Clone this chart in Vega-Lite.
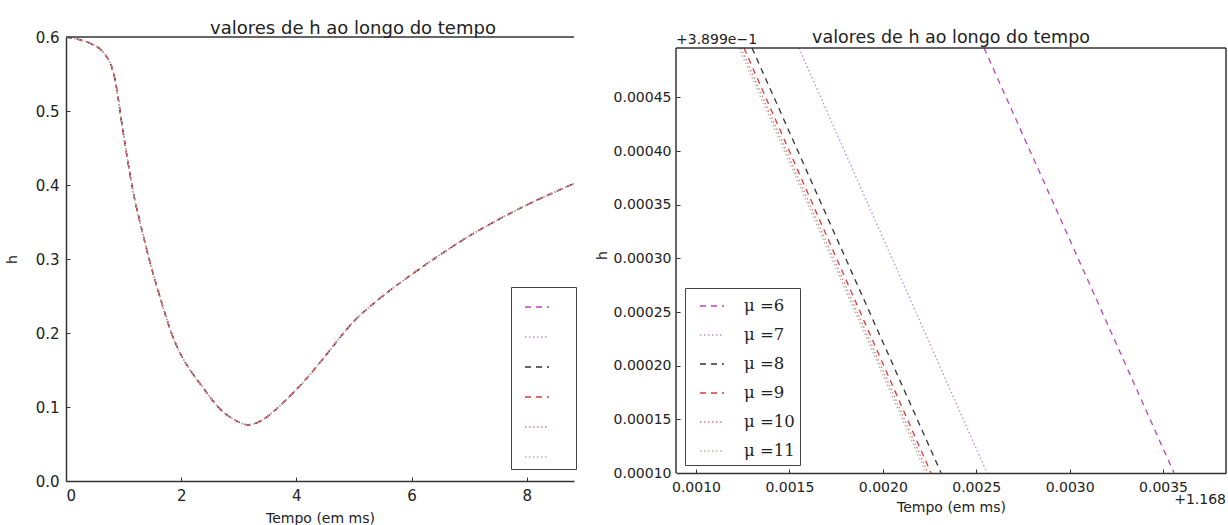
{
  "$schema": "https://vega.github.io/schema/vega-lite/v6.json",
  "background": "white",
  "padding": {"left": 5, "top": 20, "right": 0, "bottom": 0},
  "spacing": 18,
  "config": {
    "font": "DejaVu Sans",
    "view": {"stroke": null},
    "axis": {
      "grid": false,
      "domainColor": "#333333",
      "domainWidth": 1.5,
      "tickColor": "#333333",
      "tickSize": -4,
      "labelPadding": 11,
      "labelColor": "#222222",
      "titleColor": "#222222",
      "labelFont": "DejaVu Sans",
      "titleFont": "DejaVu Sans",
      "titleFontWeight": "normal"
    },
    "title": {"font": "DejaVu Sans", "fontWeight": "normal", "color": "#222222"},
    "legend": {
      "symbolType": "stroke",
      "symbolSize": 576,
      "symbolStrokeWidth": 1.5,
      "strokeColor": "#444444",
      "fillColor": "white",
      "title": null,
      "orient": "none"
    }
  },
  "resolve": {"scale": {"color": "independent", "strokeDash": "independent"}, "legend": {"color": "independent", "strokeDash": "independent"}},
  "hconcat": [
    {
      "width": 508,
      "height": 444,
      "title": {"text": "valores de h ao longo do tempo", "fontSize": 18, "offset": -8, "dx": 33},
      "layer": [
        {
          "data": {"values": [
            {"t": 0, "6": 0.600, "7": 0.600, "8": 0.600, "9": 0.600, "10": 0.600, "11": 0.600},
            {"t": 0.2, "6": 0.597, "7": 0.597, "8": 0.597, "9": 0.597, "10": 0.597, "11": 0.597},
            {"t": 0.4, "6": 0.592, "7": 0.592, "8": 0.592, "9": 0.592, "10": 0.592, "11": 0.592},
            {"t": 0.6, "6": 0.583, "7": 0.583, "8": 0.583, "9": 0.583, "10": 0.583, "11": 0.583},
            {"t": 0.7, "6": 0.574, "7": 0.574, "8": 0.574, "9": 0.574, "10": 0.574, "11": 0.574},
            {"t": 0.8, "6": 0.558, "7": 0.558, "8": 0.558, "9": 0.558, "10": 0.558, "11": 0.558},
            {"t": 0.85, "6": 0.543, "7": 0.543, "8": 0.543, "9": 0.543, "10": 0.543, "11": 0.543},
            {"t": 0.9, "6": 0.520, "7": 0.520, "8": 0.520, "9": 0.520, "10": 0.520, "11": 0.520},
            {"t": 0.96, "6": 0.488, "7": 0.488, "8": 0.488, "9": 0.488, "10": 0.488, "11": 0.488},
            {"t": 1.05, "6": 0.443, "7": 0.443, "8": 0.443, "9": 0.443, "10": 0.443, "11": 0.443},
            {"t": 1.168, "6": 0.390, "7": 0.390, "8": 0.390, "9": 0.390, "10": 0.390, "11": 0.390},
            {"t": 1.3, "6": 0.345, "7": 0.345, "8": 0.345, "9": 0.345, "10": 0.345, "11": 0.345},
            {"t": 1.45, "6": 0.298, "7": 0.298, "8": 0.298, "9": 0.298, "10": 0.298, "11": 0.298},
            {"t": 1.65, "6": 0.244, "7": 0.244, "8": 0.244, "9": 0.244, "10": 0.244, "11": 0.244},
            {"t": 1.83, "6": 0.200, "7": 0.200, "8": 0.200, "9": 0.200, "10": 0.200, "11": 0.200},
            {"t": 2.0, "6": 0.170, "7": 0.170, "8": 0.170, "9": 0.170, "10": 0.170, "11": 0.170},
            {"t": 2.2, "6": 0.145, "7": 0.145, "8": 0.145, "9": 0.145, "10": 0.145, "11": 0.145},
            {"t": 2.4, "6": 0.124, "7": 0.124, "8": 0.124, "9": 0.124, "10": 0.124, "11": 0.124},
            {"t": 2.64, "6": 0.100, "7": 0.100, "8": 0.100, "9": 0.100, "10": 0.100, "11": 0.100},
            {"t": 2.9, "6": 0.084, "7": 0.084, "8": 0.084, "9": 0.084, "10": 0.084, "11": 0.084},
            {"t": 3.16, "6": 0.076, "7": 0.076, "8": 0.076, "9": 0.076, "10": 0.076, "11": 0.076},
            {"t": 3.4, "6": 0.082, "7": 0.082, "8": 0.082, "9": 0.082, "10": 0.082, "11": 0.082},
            {"t": 3.62, "6": 0.095, "7": 0.095, "8": 0.095, "9": 0.095, "10": 0.095, "11": 0.095},
            {"t": 3.85, "6": 0.112, "7": 0.112, "8": 0.112, "9": 0.112, "10": 0.112, "11": 0.112},
            {"t": 4.09, "6": 0.131, "7": 0.131, "8": 0.131, "9": 0.131, "10": 0.131, "11": 0.131},
            {"t": 4.43, "6": 0.162, "7": 0.162, "8": 0.162, "9": 0.162, "10": 0.162, "11": 0.162},
            {"t": 5.0, "6": 0.216, "7": 0.216, "8": 0.216, "9": 0.216, "10": 0.216, "11": 0.216},
            {"t": 5.5, "6": 0.250, "7": 0.250, "8": 0.250, "9": 0.250, "10": 0.250, "11": 0.250},
            {"t": 6.0, "6": 0.279, "7": 0.279, "8": 0.279, "9": 0.279, "10": 0.279, "11": 0.279},
            {"t": 6.5, "6": 0.306, "7": 0.306, "8": 0.306, "9": 0.306, "10": 0.306, "11": 0.306},
            {"t": 7.0, "6": 0.331, "7": 0.331, "8": 0.331, "9": 0.331, "10": 0.331, "11": 0.331},
            {"t": 7.5, "6": 0.353, "7": 0.353, "8": 0.353, "9": 0.353, "10": 0.353, "11": 0.353},
            {"t": 8.0, "6": 0.373, "7": 0.373, "8": 0.373, "9": 0.373, "10": 0.373, "11": 0.373},
            {"t": 8.5, "6": 0.391, "7": 0.391, "8": 0.391, "9": 0.391, "10": 0.391, "11": 0.391},
            {"t": 8.82, "6": 0.402, "7": 0.402, "8": 0.402, "9": 0.402, "10": 0.402, "11": 0.402}
          ]},
          "transform": [{"fold": ["6", "7", "8", "9", "10", "11"], "as": ["mu", "h"]}],
          "mark": {"type": "line", "strokeWidth": 1.3, "clip": true, "interpolate": "monotone"},
          "encoding": {
            "x": {"field": "t", "type": "quantitative",
                  "scale": {"domain": [0, 8.82], "nice": false, "zero": false},
                  "axis": {"values": [0, 2, 4, 6, 8], "format": "d", "title": "Tempo (em ms)", "labelFontSize": 15, "titleFontSize": 14, "titlePadding": 8}},
            "y": {"field": "h", "type": "quantitative",
                  "scale": {"domain": [0, 0.6], "nice": false},
                  "axis": {"values": [0, 0.1, 0.2, 0.3, 0.4, 0.5, 0.6], "format": ".1f", "title": "h", "labelFontSize": 15, "titleFontSize": 14, "titlePadding": 16}},
            "color": {"field": "mu", "type": "nominal",
                      "scale": {"domain": ["6", "7", "8", "9", "10", "11"], "range": ["#b845b8", "#b890c8", "#333333", "#d83c3c", "#e07878", "#a8b8a8"]},
                      "legend": {"legendX": 445, "legendY": 250, "padding": 7, "symbolOffset": 6, "rowPadding": 12, "labelOffset": 19, "labelExpr": "''"}},
            "strokeDash": {"field": "mu", "type": "nominal",
                           "scale": {"domain": ["6", "7", "8", "9", "10", "11"], "range": [[6, 5], [1.5, 2.5], [6, 5], [6, 5], [1.5, 2.5], [1.5, 2.5]]},
                           "legend": {"legendX": 445, "legendY": 250, "padding": 7, "symbolOffset": 6, "rowPadding": 12, "labelOffset": 19, "labelExpr": "''"}}
          }
        },
        {
          "data": {"values": [{}]},
          "mark": {"type": "rule", "color": "#333333", "strokeWidth": 1.5},
          "encoding": {"y": {"datum": 0.6}}
        }
      ]
    },
    {
      "width": 550,
      "height": 436,
      "title": {"text": "valores de h ao longo do tempo", "fontSize": 17.5, "offset": -13},
      "layer": [
        {
          "data": {"values": [
            {"mu": "6", "dt": 0.002542, "dh": 0.000496},
            {"mu": "6", "dt": 0.003559, "dh": 0.0001},
            {"mu": "7", "dt": 0.001551, "dh": 0.000496},
            {"mu": "7", "dt": 0.002558, "dh": 0.0001},
            {"mu": "8", "dt": 0.001300, "dh": 0.000496},
            {"mu": "8", "dt": 0.002312, "dh": 0.0001},
            {"mu": "9", "dt": 0.001257, "dh": 0.000496},
            {"mu": "9", "dt": 0.002258, "dh": 0.0001},
            {"mu": "10", "dt": 0.001241, "dh": 0.000496},
            {"mu": "10", "dt": 0.002242, "dh": 0.0001},
            {"mu": "11", "dt": 0.001230, "dh": 0.000496},
            {"mu": "11", "dt": 0.002231, "dh": 0.0001}
          ]},
          "mark": {"type": "line", "strokeWidth": 1.3},
          "encoding": {
            "x": {"field": "dt", "type": "quantitative",
                  "scale": {"domain": [0.000893, 0.003837], "nice": false, "zero": false},
                  "axis": {"values": [0.001, 0.0015, 0.002, 0.0025, 0.003, 0.0035], "format": ".4f", "title": "Tempo (em ms)", "labelFontSize": 14, "titleFontSize": 14, "titlePadding": 6}},
            "y": {"field": "dh", "type": "quantitative",
                  "scale": {"domain": [0.0001, 0.0005063], "nice": false, "zero": false},
                  "axis": {"values": [0.0001, 0.00015, 0.0002, 0.00025, 0.0003, 0.00035, 0.0004, 0.00045], "format": ".5f", "title": "h", "labelFontSize": 14, "titleFontSize": 14, "titlePadding": 4, "labelPadding": 9, "domain": false}},
            "color": {"field": "mu", "type": "nominal",
                      "scale": {"domain": ["6", "7", "8", "9", "10", "11"], "range": ["#b845b8", "#b890c8", "#333333", "#d83c3c", "#e07878", "#a8b8a8"]},
                      "legend": {"legendX": 9, "legendY": 251, "padding": 5, "symbolOffset": 9, "rowPadding": 7, "labelOffset": 19, "labelFont": "DejaVu Serif", "labelFontSize": 16.5, "labelColor": "#222222", "labelExpr": "'μ =' + datum.label"}},
            "strokeDash": {"field": "mu", "type": "nominal",
                           "scale": {"domain": ["6", "7", "8", "9", "10", "11"], "range": [[6, 5], [1.5, 2.5], [6, 5], [6, 5], [1.5, 2.5], [1.5, 2.5]]},
                           "legend": {"legendX": 9, "legendY": 251, "padding": 5, "symbolOffset": 9, "rowPadding": 7, "labelOffset": 19, "labelFont": "DejaVu Serif", "labelFontSize": 16.5, "labelColor": "#222222", "labelExpr": "'μ =' + datum.label"}}
          }
        },
        {
          "data": {"values": [{}]},
          "mark": {"type": "rule", "color": "#333333", "strokeWidth": 1.5},
          "encoding": {"y": {"datum": 0.000496, "type": "quantitative"}}
        },
        {
          "data": {"values": [{"side": "left", "x": 0.000893}, {"side": "right", "x": 0.003837}]},
          "mark": {"type": "rule", "color": "#333333", "strokeWidth": 1.5},
          "encoding": {
            "x": {"field": "x", "type": "quantitative"},
            "y": {"datum": 0.0001, "type": "quantitative"},
            "y2": {"datum": 0.000496}
          }
        },
        {
          "data": {"values": [{"label": "+3.899e\u22121"}]},
          "mark": {"type": "text", "align": "left", "baseline": "bottom", "dy": -1, "fontSize": 14, "color": "#222222"},
          "encoding": {
            "x": {"datum": 0.000893, "type": "quantitative"},
            "y": {"datum": 0.000496, "type": "quantitative"},
            "text": {"field": "label"}
          }
        },
        {
          "data": {"values": [{"label": "+1.168"}]},
          "mark": {"type": "text", "align": "right", "baseline": "middle", "dy": 27, "fontSize": 14, "color": "#222222"},
          "encoding": {
            "x": {"datum": 0.003837, "type": "quantitative"},
            "y": {"datum": 0.0001, "type": "quantitative"},
            "text": {"field": "label"}
          }
        }
      ]
    }
  ]
}
